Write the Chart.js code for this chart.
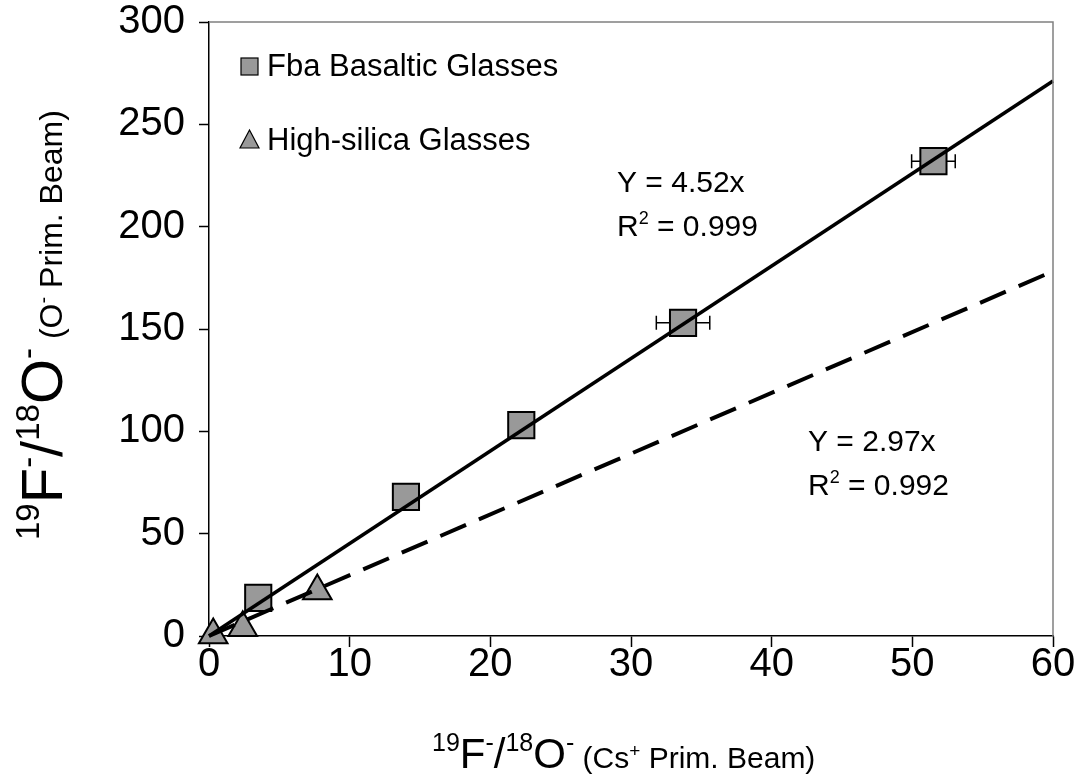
<!DOCTYPE html>
<html>
<head>
<meta charset="utf-8">
<script src="https://cdn.jsdelivr.net/npm/chart.js@4.4.0/dist/chart.umd.min.js"></script>
<style>
  body { margin: 0; background: #fff; }
  #wrap { width: 1082px; height: 783px; }
</style>
</head>
<body>
<div id="wrap"><canvas id="chart" width="1082" height="783"></canvas></div>
<script>
// data
const basaltX = [3.5, 14.0, 22.2, 33.7, 51.5];
const basaltY = [18.6, 68, 103, 153, 232];
const basaltXErr = [0, 0, 0, 1.9, 1.55];
const silicaX = [0.3, 2.4, 7.7];
const silicaY = [0.5, 4, 22];
const fitX = [0, 60];
const basaltFitY = [0, 271.2];
const silicaFitY = [0, 178.2];
const xTicks = [0, 10, 20, 30, 40, 50, 60];
const yTicks = [0, 50, 100, 150, 200, 250, 300];
const legendLabels = ["Fba Basaltic Glasses", "High-silica Glasses"];

const FONT = "'Liberation Sans', Arial, sans-serif";
const markerGray = "#999999";

function pts(xs, ys) {
    return xs.map((x, i) => ({ x: x, y: ys[i] }));
}

// draw a run of text pieces, some raised as superscripts
function drawRich(ctx, parts, x, y) {
    ctx.textBaseline = "alphabetic";
    ctx.textAlign = "left";
    parts.forEach(p => {
        ctx.font = p.size + "px " + FONT;
        ctx.fillText(p.t, x, y - (p.up || 0));
        x += ctx.measureText(p.t).width;
    });
}

function titleParts(big, sup, small, beam, beamSign) {
    const up = Math.round(big * 0.4);
    return [
        { t: "19", size: sup, up: up },
        { t: "F", size: big },
        { t: "-", size: sup, up: up },
        { t: "/", size: big },
        { t: "18", size: sup, up: up },
        { t: "O", size: big },
        { t: "-", size: sup, up: up },
        { t: " (" + beam, size: small },
        { t: beamSign, size: Math.round(small * 0.62), up: Math.round(small * 0.38) },
        { t: " Prim. Beam)", size: small }
    ];
}

const extras = {
    id: "extras",
    beforeDatasetsDraw(chart) {
        const ctx = chart.ctx;
        const xs = chart.scales.x, ys = chart.scales.y;
        ctx.save();
        ctx.strokeStyle = "#000";
        ctx.lineWidth = 1.5;
        basaltX.forEach((bx, i) => {
            const e = basaltXErr[i];
            if (!e) return;
            const py = ys.getPixelForValue(basaltY[i]);
            const x1 = xs.getPixelForValue(bx - e);
            const x2 = xs.getPixelForValue(bx + e);
            ctx.beginPath();
            ctx.moveTo(x1, py); ctx.lineTo(x2, py);
            ctx.moveTo(x1, py - 7); ctx.lineTo(x1, py + 7);
            ctx.moveTo(x2, py - 7); ctx.lineTo(x2, py + 7);
            ctx.stroke();
        });
        ctx.restore();
    },
    afterDraw(chart) {
        const ctx = chart.ctx;
        const a = chart.chartArea;
        ctx.save();

        // grey frame on top and right
        ctx.strokeStyle = "#808080";
        ctx.lineWidth = 1.5;
        ctx.beginPath();
        ctx.moveTo(a.left, a.top);
        ctx.lineTo(a.right, a.top);
        ctx.lineTo(a.right, a.bottom);
        ctx.stroke();

        // legend
        ctx.fillStyle = markerGray;
        ctx.strokeStyle = "#000";
        ctx.lineWidth = 1.2;
        ctx.fillRect(241, 58, 17, 17);
        ctx.strokeRect(241, 58, 17, 17);
        ctx.beginPath();
        ctx.moveTo(249.5, 130);
        ctx.lineTo(259, 148);
        ctx.lineTo(240, 148);
        ctx.closePath();
        ctx.fill();
        ctx.stroke();
        ctx.fillStyle = "#000";
        ctx.font = "31px " + FONT;
        ctx.textBaseline = "middle";
        ctx.textAlign = "left";
        ctx.fillText(legendLabels[0], 267, 67);
        ctx.fillText(legendLabels[1], 267, 141);

        // fit equations
        drawRich(ctx, [{ t: "Y = 4.52x", size: 30 }], 617, 192);
        drawRich(ctx, [{ t: "R", size: 30 }, { t: "2", size: 18, up: 12 }, { t: " = 0.999", size: 30 }], 617, 236);
        drawRich(ctx, [{ t: "Y = 2.97x", size: 30 }], 808, 451);
        drawRich(ctx, [{ t: "R", size: 30 }, { t: "2", size: 18, up: 12 }, { t: " = 0.992", size: 30 }], 808, 495);

        // axis titles
        drawRich(ctx, titleParts(42, 25, 30, "Cs", "+"), 432, 768);

        ctx.translate(62, 540);
        ctx.rotate(-Math.PI / 2);
        drawRich(ctx, titleParts(58, 33, 32, "O", "-"), 0, 0);

        ctx.restore();
    }
};

const tickFont = { family: FONT, size: 40 };

new Chart(document.getElementById("chart"), {
    type: "scatter",
    data: {
        datasets: [
            {
                label: "basalt fit",
                data: pts(fitX, basaltFitY),
                showLine: true,
                borderColor: "#000",
                borderWidth: 3.5,
                pointRadius: 0
            },
            {
                label: "silica fit",
                data: pts(fitX, silicaFitY),
                showLine: true,
                borderColor: "#000",
                borderWidth: 4,
                borderDash: [28, 14],
                pointRadius: 0
            },
            {
                label: legendLabels[0],
                data: pts(basaltX, basaltY),
                pointStyle: "rect",
                pointRadius: 18.5,
                backgroundColor: markerGray,
                borderColor: "#000",
                borderWidth: 2
            },
            {
                label: legendLabels[1],
                data: pts(silicaX, silicaY),
                pointStyle: "triangle",
                pointRadius: 16.5,
                backgroundColor: markerGray,
                borderColor: "#000",
                borderWidth: 2
            }
        ]
    },
    options: {
        responsive: false,
        animation: false,
        clip: false,
        layout: { padding: { top: 22, right: 29, left: 0, bottom: 0 } },
        plugins: {
            legend: { display: false },
            tooltip: { enabled: false }
        },
        scales: {
            x: {
                type: "linear",
                min: 0,
                max: 60,
                afterBuildTicks: s => { s.ticks = xTicks.map(v => ({ value: v })); },
                afterFit: s => { s.height = 147; s.paddingLeft = 0; s.paddingRight = 0; },
                ticks: { font: tickFont, color: "#000", padding: -6, maxRotation: 0 },
                grid: { drawOnChartArea: false, tickLength: 11, tickColor: "#000", tickWidth: 1.5 },
                border: { color: "#000", width: 1.5 }
            },
            y: {
                type: "linear",
                min: 0,
                max: 300,
                afterBuildTicks: s => { s.ticks = yTicks.map(v => ({ value: v })); },
                afterFit: s => { s.width = 209; s.paddingTop = 0; s.paddingBottom = 0; },
                ticks: { font: tickFont, color: "#000", padding: 14 },
                grid: { drawOnChartArea: false, tickLength: 10, tickColor: "#000", tickWidth: 1.5 },
                border: { color: "#000", width: 1.5 }
            }
        }
    },
    plugins: [extras]
});
</script>
</body>
</html>
